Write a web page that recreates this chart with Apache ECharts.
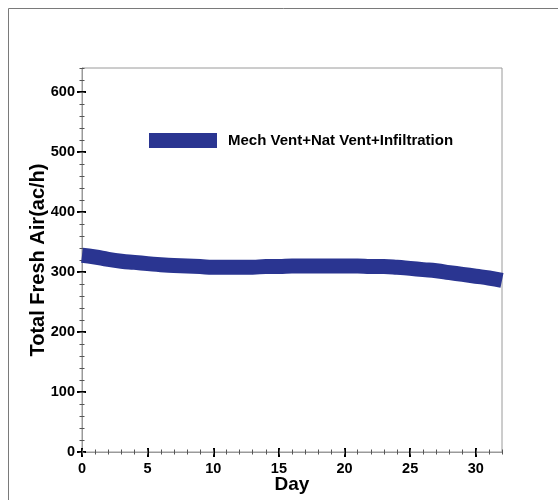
<!DOCTYPE html>
<html><head><meta charset="utf-8">
<script src="https://cdn.jsdelivr.net/npm/echarts@6/dist/echarts.min.js"></script>
<style>html,body{margin:0;padding:0;background:#fff}#c{width:558px;height:500px}</style>
</head><body><div id="c"></div>
<script>
const days = [0,1,2,3,4,5,6,7,8,9,10,11,12,13,14,15,16,17,18,19,20,21,22,23,24,25,26,27,28,29,30,31,32];
const totalFreshAir = [328,325,321,318,316,314,312,311,310,309,308,308,308,308,309,309,310,310,310,310,310,310,309,309,308,306,304,302,299,296,293,290,286];
const seriesName = 'Mech Vent+Nat Vent+Infiltration';
const xTitle = 'Day';
const yTitle = 'Total Fresh Air(ac/h)';
const xTicks = [0,5,10,15,20,25,30];
const yTicks = [0,100,200,300,400,500,600];

const chart = echarts.init(document.getElementById('c'));
const font = 'Liberation Sans, Arial, sans-serif';
const axisGray = '#9a9a9a';
const baseX = {type:'value', min:0, max:32, interval:1};
const baseY = {type:'value', min:0, max:640, interval:20};
chart.setOption({
  animation:false,
  graphic:[{type:'rect', shape:{x:8.5,y:8.5,width:700,height:700}, style:{fill:'none', stroke:'#7a7a7a', lineWidth:1}, z:-1}],
  grid:{left:82, right:56, top:68, bottom:48, show:true, borderColor:axisGray, borderWidth:1,
    containLabel:false, outerBoundsMode:'none'},
  legend:{show:true, left:149, top:133, padding:0, itemWidth:68, itemHeight:15, itemGap:11,
    textStyle:{fontFamily:font, fontWeight:'bold', fontSize:15, color:'#000', padding:[0,0,0,6]},
    data:[{name:seriesName, icon:'rect'}]},
  xAxis:[
    Object.assign({}, baseX, {
      name:xTitle, nameLocation:'middle', nameGap:23, nameMoveOverlap:false,
      nameTextStyle:{fontFamily:font, fontWeight:'bold', fontSize:19, color:'#000'},
      axisLine:{show:true, onZero:false, lineStyle:{color:axisGray, width:1}},
      axisTick:{show:true, customValues:xTicks, inside:false, length:5, lineStyle:{color:'#000', width:2}},
      axisLabel:{customValues:xTicks, fontFamily:font, fontWeight:'bold', fontSize:14.5, color:'#000', margin:9},
      splitLine:{show:false}
    }),
    Object.assign({}, baseX, {
      position:'bottom',
      axisLine:{show:false},
      axisTick:{show:true, customValues:xTicks, inside:true, length:4, lineStyle:{color:'#000', width:2}},
      axisLabel:{show:false}, splitLine:{show:false}
    }),
    Object.assign({}, baseX, {
      position:'bottom', offset:0,
      axisLine:{show:false},
      axisTick:{show:true, inside:false, length:2.5, lineStyle:{color:'#555', width:1}},
      axisLabel:{show:false}, splitLine:{show:false}
    }),
    Object.assign({}, baseX, {
      position:'bottom', offset:0,
      axisLine:{show:false},
      axisTick:{show:true, inside:true, length:2.5, lineStyle:{color:'#555', width:1}},
      axisLabel:{show:false}, splitLine:{show:false}
    })
  ],
  yAxis:[
    Object.assign({}, baseY, {
      name:yTitle, nameLocation:'middle', nameGap:34, nameMoveOverlap:false,
      nameTextStyle:{fontFamily:font, fontWeight:'bold', fontSize:20, color:'#000'},
      axisLine:{show:true, onZero:false, lineStyle:{color:axisGray, width:1}},
      axisTick:{show:true, customValues:yTicks, inside:false, length:5, lineStyle:{color:'#000', width:2}},
      axisLabel:{customValues:yTicks, fontFamily:font, fontWeight:'bold', fontSize:14.5, color:'#000', margin:7},
      splitLine:{show:false}
    }),
    Object.assign({}, baseY, {
      position:'left',
      axisLine:{show:false},
      axisTick:{show:true, customValues:yTicks, inside:true, length:4, lineStyle:{color:'#000', width:2}},
      axisLabel:{show:false}, splitLine:{show:false}
    }),
    Object.assign({}, baseY, {
      position:'left', offset:0,
      axisLine:{show:false},
      axisTick:{show:true, inside:false, length:2.5, lineStyle:{color:'#555', width:1}},
      axisLabel:{show:false}, splitLine:{show:false}
    }),
    Object.assign({}, baseY, {
      position:'left', offset:0,
      axisLine:{show:false},
      axisTick:{show:true, inside:true, length:2.5, lineStyle:{color:'#555', width:1}},
      axisLabel:{show:false}, splitLine:{show:false}
    })
  ],
  series:[{
    name:seriesName, type:'line', xAxisIndex:0, yAxisIndex:0,
    data:days.map((d,i)=>[d,totalFreshAir[i]]),
    smooth:true, showSymbol:false, symbol:'none',
    lineStyle:{color:'#2a3591', width:15},
    itemStyle:{color:'#2a3591'}
  }]
});
</script>
</body></html>
